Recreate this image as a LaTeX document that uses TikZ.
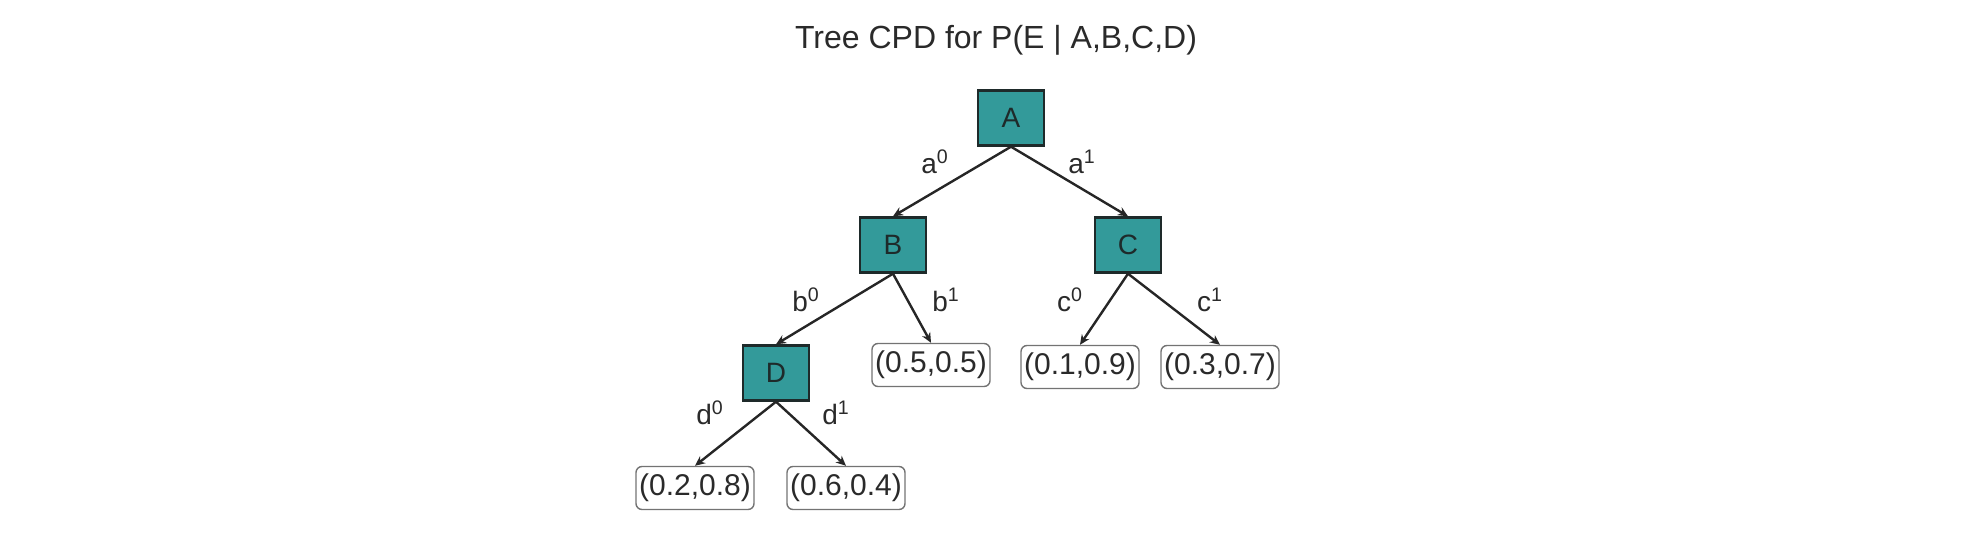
\documentclass[tikz,border=0pt]{standalone}
\usepackage{fontspec}
\setmainfont{Liberation Sans}
\usetikzlibrary{arrows.meta}
\definecolor{tealfill}{HTML}{339A9A}
\definecolor{boxline}{HTML}{1E2A2A}
\definecolor{textcol}{HTML}{2A2A2A}
\tikzset{
  var/.style={draw=boxline, fill=tealfill, line width=1.2pt, minimum width=33pt, minimum height=27.5pt, inner sep=0pt, font=\fontsize{14}{16}\selectfont, text=boxline},
  leaf/.style={draw=black!55, line width=0.7pt, rounded corners=3pt, minimum width=59pt, minimum height=21.5pt, inner sep=0.5pt, font=\fontsize{15}{17}\selectfont, text=textcol},
  edge/.style={-{Stealth[length=5pt,width=4.5pt]}, line width=1.2pt, draw=black!85},
  lab/.style={font=\fontsize{14}{16}\selectfont, text=textcol, inner sep=0pt}
}
\begin{document}
\begin{tikzpicture}[x=0.5pt,y=-0.5pt]
\useasboundingbox (0,0) rectangle (1964,546);
\node[font=\fontsize{16}{19}\selectfont, text=textcol] (title) at (996,40) {Tree CPD for P(E | A,B,C,D)};
\node[var] (A) at (1011,118) {A};
\node[var] (B) at (893,245) {B};
\node[var] (C) at (1128,245) {C};
\node[var] (D) at (776,373) {D};
\node[leaf] (l1) at (931,365) {(0.5,0.5)};
\node[leaf] (l2) at (1080,367) {(0.1,0.9)};
\node[leaf] (l3) at (1220,367) {(0.3,0.7)};
\node[leaf] (l4) at (695,488) {(0.2,0.8)};
\node[leaf] (l5) at (846,488) {(0.6,0.4)};
\draw[edge] (A.south) -- (B.north);
\draw[edge] (A.south) -- (C.north);
\draw[edge] (B.south) -- (D.north);
\draw[edge] (B.south) -- (l1.north);
\draw[edge] (C.south) -- (l2.north);
\draw[edge] (C.south) -- (l3.north);
\draw[edge] (D.south) -- (l4.north);
\draw[edge] (D.south) -- (l5.north);
\node[lab] (la0) at (935,162) {a\textsuperscript{0}};
\node[lab] (la1) at (1082,162) {a\textsuperscript{1}};
\node[lab] (lb0) at (806,300) {b\textsuperscript{0}};
\node[lab] (lb1) at (946,300) {b\textsuperscript{1}};
\node[lab] (lc0) at (1070,300) {c\textsuperscript{0}};
\node[lab] (lc1) at (1210,300) {c\textsuperscript{1}};
\node[lab] (ld0) at (710,413) {d\textsuperscript{0}};
\node[lab] (ld1) at (836,413) {d\textsuperscript{1}};
\end{tikzpicture}
\end{document}
